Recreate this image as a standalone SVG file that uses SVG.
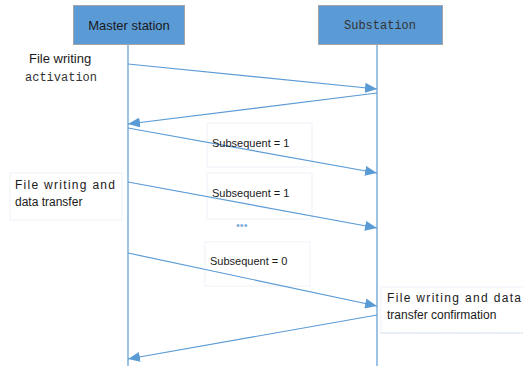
<svg xmlns="http://www.w3.org/2000/svg" width="523" height="372" viewBox="0 0 523 372">
<defs>
<marker id="ah" markerWidth="12" markerHeight="10" refX="12" refY="5" orient="auto" markerUnits="userSpaceOnUse">
<path d="M0,0 L12,5 L0,10 Z" fill="#5B9BD5"/>
</marker>
<style>
.hdr{fill:#5B9BD5;stroke:#A5A5A5;stroke-width:1}
.life{stroke:#5B9BD5;stroke-width:1.2;fill:none}
.msg{stroke:#5B9BD5;stroke-width:1.2;fill:none;marker-end:url(#ah)}
.lbox{fill:#fff;stroke:#F3F6FB;stroke-width:1.5}
.sans{font-family:"Liberation Sans",Arial,sans-serif;fill:#1a1a1a}
.mono{font-family:"Liberation Mono","DejaVu Sans Mono",monospace;fill:#333}
</style>
</defs>
<rect width="523" height="372" fill="#fff"/>
<g id="master">
<rect class="hdr" x="73.5" y="5.5" width="111" height="39"/>
<text class="sans" x="129" y="30" font-size="13" text-anchor="middle">Master station</text>
</g>
<g id="substation">
<rect class="hdr" x="318.5" y="5.5" width="124" height="39"/>
<text class="mono" x="380" y="29" font-size="12" text-anchor="middle">Substation</text>
</g>
<g id="lifelines">
<line class="life" x1="128" y1="45" x2="128" y2="366"/>
<line class="life" x1="377" y1="45" x2="377" y2="366"/>
</g>
<g id="label-activation">
<text class="sans" x="29" y="63" font-size="13">File writing</text>
<text class="mono" x="25" y="81" font-size="12">activation</text>
</g>
<g id="label-s1a">
<rect class="lbox" x="207" y="123" width="105" height="44"/>
</g>
<g id="label-s1b">
<rect class="lbox" x="207" y="173" width="105" height="46"/>
</g>
<g id="label-s0">
<rect class="lbox" x="205" y="242" width="105" height="44"/>
</g>
<g id="label-transfer">
<rect class="lbox" x="10" y="173" width="112" height="47"/>
<text class="sans" x="15" y="189" font-size="12" textLength="100" lengthAdjust="spacing">File writing and</text>
<text class="sans" x="15" y="206" font-size="12">data transfer</text>
</g>
<g id="label-confirm">
<rect class="lbox" x="381" y="287" width="150" height="46"/>
<line x1="381" y1="333" x2="523" y2="333" stroke="#C9D8EC" stroke-width="1" stroke-dasharray="1.5,1"/>
<text class="sans" x="387" y="302" font-size="12" textLength="134" lengthAdjust="spacing">File writing and data</text>
<text class="sans" x="387" y="319" font-size="12">transfer confirmation</text>
</g>
<g id="connectors">
<line class="msg" x1="128" y1="64" x2="377" y2="89"/>
<line class="msg" x1="377" y1="93" x2="128" y2="124"/>
<line class="msg" x1="128" y1="128" x2="377" y2="173"/>
<line class="msg" x1="128" y1="182" x2="377" y2="228"/>
<line class="msg" x1="128" y1="253" x2="377" y2="306"/>
<line class="msg" x1="377" y1="315" x2="128" y2="359"/>
</g>
<g id="texts-sub">
<text class="sans" x="212" y="147" font-size="11">Subsequent = 1</text>
<text class="sans" x="212" y="197" font-size="11">Subsequent = 1</text>
<text class="sans" x="210" y="265" font-size="11">Subsequent = 0</text>
<text x="236" y="229" font-size="11" fill="#7FAEDD" font-family="Liberation Sans,sans-serif">•••</text>
</g>
</svg>
